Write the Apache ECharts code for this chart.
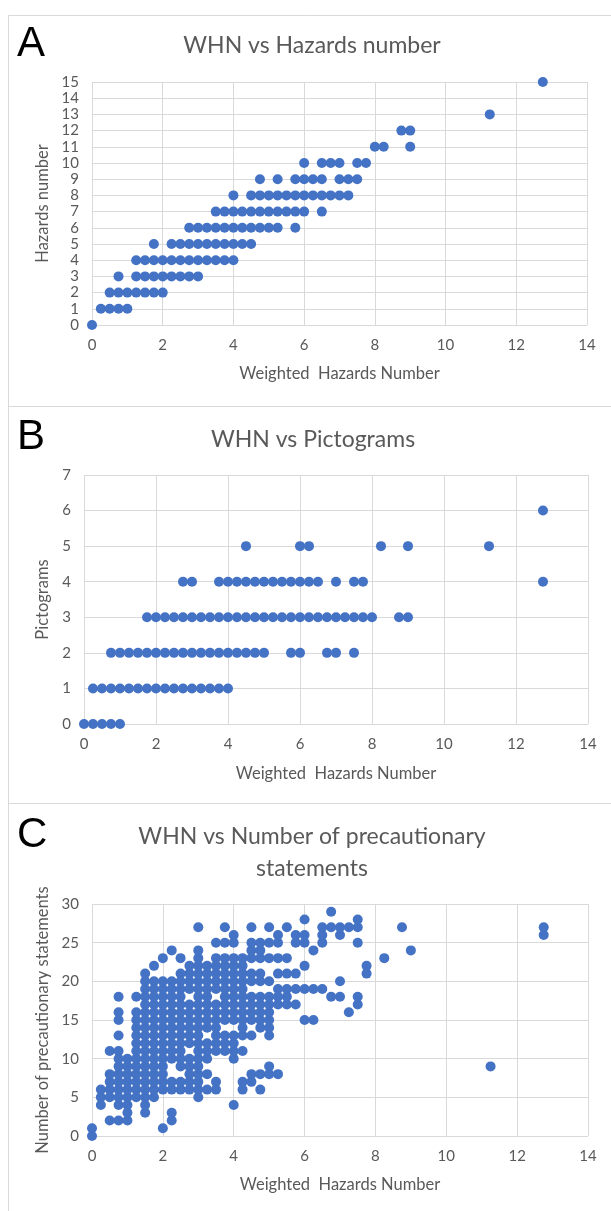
<!DOCTYPE html>
<html>
<head>
<meta charset="utf-8">
<script src="https://cdn.jsdelivr.net/npm/echarts@6/dist/echarts.min.js"></script>
<style>
html,body{margin:0;padding:0;background:#fff;}
#chart{width:611px;height:1211px;}
</style>
</head>
<body>
<div id="chart"></div>
<script>
// ---------- Data ----------
// Panel A: Hazards number (y) rows with WHN values (x)
const hazardsLevels = [0, 1, 2, 3, 4, 5, 6, 7, 8, 9, 10, 11, 12, 13, 15];
const hazardsWHN = [
  [0],
  [0.25, 0.5, 0.75, 1.0],
  [0.5, 0.75, 1.0, 1.25, 1.5, 1.75, 2.0],
  [0.75, 1.25, 1.5, 1.75, 2.0, 2.25, 2.5, 2.75, 3.0],
  [1.25, 1.5, 1.75, 2.0, 2.25, 2.5, 2.75, 3.0, 3.25, 3.5, 3.75, 4.0],
  [1.75, 2.25, 2.5, 2.75, 3.0, 3.25, 3.5, 3.75, 4.0, 4.25, 4.5],
  [2.75, 3.0, 3.25, 3.5, 3.75, 4.0, 4.25, 4.5, 4.75, 5.0, 5.25, 5.75],
  [3.5, 3.75, 4.0, 4.25, 4.5, 4.75, 5.0, 5.25, 5.5, 5.75, 6.0, 6.5],
  [4.0, 4.5, 4.75, 5.0, 5.25, 5.5, 5.75, 6.0, 6.25, 6.5, 6.75, 7.0, 7.25],
  [4.75, 5.25, 5.75, 6.0, 6.25, 6.5, 7.0, 7.25, 7.5],
  [6.0, 6.5, 6.75, 7.0, 7.5, 7.75],
  [8.0, 8.25, 9.0],
  [8.75, 9.0],
  [11.25],
  [12.75]
];

// Panel B: Pictograms (y) rows with WHN values (x)
const pictoLevels = [0, 1, 2, 3, 4, 5, 6];
const pictoWHN = [
  [0, 0.25, 0.5, 0.75, 1.0],
  [0.25, 0.5, 0.75, 1.0, 1.25, 1.5, 1.75, 2.0, 2.25, 2.5, 2.75, 3.0, 3.25, 3.5, 3.75, 4.0],
  [0.75, 1.0, 1.25, 1.5, 1.75, 2.0, 2.25, 2.5, 2.75, 3.0, 3.25, 3.5, 3.75, 4.0, 4.25, 4.5, 4.75, 5.0, 5.75, 6.0, 6.75, 7.0, 7.5],
  [1.75, 2.0, 2.25, 2.5, 2.75, 3.0, 3.25, 3.5, 3.75, 4.0, 4.25, 4.5, 4.75, 5.0, 5.25, 5.5, 5.75, 6.0, 6.25, 6.5, 6.75, 7.0, 7.25, 7.5, 7.75, 8.0, 8.75, 9.0],
  [2.75, 3.0, 3.75, 4.0, 4.25, 4.5, 4.75, 5.0, 5.25, 5.5, 5.75, 6.0, 6.25, 6.5, 7.0, 7.5, 7.75, 12.75],
  [4.5, 6.0, 6.25, 8.25, 9.0, 11.25],
  [12.75]
];

// Panel C: WHN columns (x) with Number of precautionary statements (y)
const precWHN = [0, 0.25, 0.5, 0.75, 1.0, 1.25, 1.5, 1.75, 2.0, 2.25, 2.5, 2.75, 3.0, 3.25, 3.5, 3.75, 4.0, 4.25, 4.5, 4.75, 5.0, 5.25, 5.5, 5.75, 6.0, 6.25, 6.5, 6.75, 7.0, 7.25, 7.5, 7.75, 8.25, 8.75, 9.0, 11.25, 12.75];
const precCounts = [
  [0, 1],
  [4, 5, 6],
  [2, 5, 6, 7, 8, 11],
  [2, 4, 5, 6, 7, 8, 9, 10, 11, 13, 15, 16, 18],
  [2, 3, 4, 5, 6, 7, 8, 9, 10],
  [5, 6, 7, 8, 9, 10, 11, 12, 13, 14, 15, 16, 18],
  [3, 4, 5, 6, 7, 8, 9, 10, 11, 12, 13, 14, 15, 16, 17, 18, 19, 20, 21],
  [5, 6, 7, 8, 9, 10, 11, 12, 13, 14, 15, 16, 17, 18, 19, 20, 22],
  [1, 6, 7, 8, 9, 10, 11, 12, 13, 14, 15, 16, 17, 18, 19, 20, 23],
  [2, 3, 6, 7, 10, 11, 12, 13, 14, 15, 16, 17, 18, 19, 20, 24],
  [6, 7, 9, 10, 11, 12, 13, 14, 15, 16, 17, 18, 19, 20, 21, 23],
  [6, 7, 8, 9, 10, 12, 13, 14, 15, 16, 17, 19, 20, 21, 22],
  [5, 6, 7, 8, 9, 10, 11, 12, 13, 14, 15, 16, 17, 18, 19, 20, 21, 22, 23, 24, 27],
  [6, 8, 10, 11, 12, 14, 15, 16, 17, 18, 19, 20, 21, 22],
  [6, 7, 11, 12, 13, 14, 15, 16, 17, 19, 20, 21, 22, 23, 25],
  [11, 12, 13, 15, 16, 17, 18, 19, 20, 21, 22, 23, 25, 27],
  [4, 10, 11, 12, 13, 15, 16, 17, 18, 19, 20, 21, 22, 23, 25, 26],
  [6, 7, 11, 13, 14, 15, 16, 17, 18, 19, 20, 21, 22, 23],
  [7, 8, 13, 15, 16, 17, 18, 20, 21, 23, 24, 25, 27],
  [6, 8, 14, 15, 16, 17, 18, 20, 21, 23, 24, 25],
  [8, 9, 13, 14, 15, 16, 17, 18, 20, 23, 25, 27],
  [8, 17, 18, 19, 21, 23, 25, 26],
  [17, 18, 19, 21, 23, 27],
  [17, 19, 21, 25, 26],
  [15, 19, 22, 25, 26, 28],
  [15, 19, 24],
  [19, 25, 26, 27],
  [18, 27, 29],
  [18, 20, 26, 27],
  [16, 27],
  [17, 18, 25, 27, 28],
  [21, 22],
  [23],
  [27],
  [24],
  [9],
  [26, 27]
];

const xTicksInterval = 2;
const titles = ['WHN vs Hazards number', 'WHN vs Pictograms', 'WHN vs Number of precautionary\nstatements'];
const panelLetters = ['A', 'B', 'C'];
const xName = 'Weighted  Hazards Number';
const yNames = ['Hazards number', 'Pictograms', 'Number of precautionary statements'];

// ---------- Build ----------
function rowsToPoints(levels, rows) {
  const pts = [];
  levels.forEach((lv, i) => rows[i].forEach(x => pts.push([x, lv])));
  return pts;
}
function colsToPoints(xs, cols) {
  const pts = [];
  xs.forEach((x, i) => cols[i].forEach(y => pts.push([x, y])));
  return pts;
}
const dataA = rowsToPoints(hazardsLevels, hazardsWHN);
const dataB = rowsToPoints(pictoLevels, pictoWHN);
const dataC = colsToPoints(precWHN, precCounts);

const TXT = '#595959';
const GRID = '#d9d9d9';
const FONT = 'Lato, "Open Sans", sans-serif';
const BLUE = '#4472C4';

function xAxisCfg(i, gap) {
  return {
    type: 'value', gridIndex: i, min: 0, max: 14, interval: xTicksInterval,
    name: xName, nameLocation: 'middle', nameGap: gap,
    nameTextStyle: { color: TXT, fontSize: 16.5, fontFamily: FONT },
    axisLine: { show: false }, axisTick: { show: false },
    splitLine: { show: true, lineStyle: { color: GRID, width: 1 } },
    axisLabel: { color: TXT, fontSize: 15, fontFamily: FONT, margin: 13 }
  };
}
function yAxisCfg(i, max, interval, gap) {
  return {
    type: 'value', gridIndex: i, min: 0, max: max, interval: interval,
    name: yNames[i], nameLocation: 'middle', nameGap: gap,
    nameTextStyle: { color: TXT, fontSize: 16.5, fontFamily: FONT },
    axisLine: { show: false }, axisTick: { show: false },
    splitLine: { show: true, lineStyle: { color: GRID, width: 1 } },
    axisLabel: { color: TXT, fontSize: 15, fontFamily: FONT, margin: 13 }
  };
}

const chart = echarts.init(document.getElementById('chart'), null, { renderer: 'canvas' });
const option = {
  backgroundColor: '#fff',
  animation: false,
  grid: [
    { left: 92, top: 82, width: 495, height: 243 },
    { left: 84, top: 475, width: 504, height: 249 },
    { left: 92, top: 904, width: 496, height: 232 }
  ],
  xAxis: [xAxisCfg(0, 40), xAxisCfg(1, 41), xAxisCfg(2, 40)],
  yAxis: [yAxisCfg(0, 15, 1, 36), yAxisCfg(1, 7, 1, 31), yAxisCfg(2, 30, 5, 40)],
  series: [
    { type: 'scatter', xAxisIndex: 0, yAxisIndex: 0, data: dataA, symbolSize: 10, itemStyle: { color: BLUE, opacity: 1 } },
    { type: 'scatter', xAxisIndex: 1, yAxisIndex: 1, data: dataB, symbolSize: 10, itemStyle: { color: BLUE, opacity: 1 } },
    { type: 'scatter', xAxisIndex: 2, yAxisIndex: 2, data: dataC, symbolSize: 10, itemStyle: { color: BLUE, opacity: 1 } }
  ],
  graphic: [
    { type: 'line', shape: { x1: 8.5, y1: 15.5, x2: 8.5, y2: 1211 }, style: { stroke: GRID, lineWidth: 1 }, silent: true },
    { type: 'line', shape: { x1: 8.5, y1: 15.5, x2: 611, y2: 15.5 }, style: { stroke: GRID, lineWidth: 1 }, silent: true },
    { type: 'line', shape: { x1: 8.5, y1: 406.5, x2: 611, y2: 406.5 }, style: { stroke: GRID, lineWidth: 1 }, silent: true },
    { type: 'line', shape: { x1: 8.5, y1: 803.5, x2: 611, y2: 803.5 }, style: { stroke: GRID, lineWidth: 1 }, silent: true },
    { type: 'text', x: 17, y: 44, style: { text: panelLetters[0], fill: '#000', font: '42px "Liberation Sans", Arial, sans-serif', textAlign: 'left', textVerticalAlign: 'middle' } },
    { type: 'text', x: 17, y: 437, style: { text: panelLetters[1], fill: '#000', font: '42px "Liberation Sans", Arial, sans-serif', textAlign: 'left', textVerticalAlign: 'middle' } },
    { type: 'text', x: 17, y: 835, style: { text: panelLetters[2], fill: '#000', font: '42px "Liberation Sans", Arial, sans-serif', textAlign: 'left', textVerticalAlign: 'middle' } },
    { type: 'text', x: 312, y: 46, style: { text: titles[0], fill: TXT, font: '23px ' + FONT, textAlign: 'center', textVerticalAlign: 'middle' } },
    { type: 'text', x: 313, y: 440, style: { text: titles[1], fill: TXT, font: '23px ' + FONT, textAlign: 'center', textVerticalAlign: 'middle' } },
    { type: 'text', x: 312, y: 853, style: { text: titles[2], fill: TXT, font: '23px ' + FONT, lineHeight: 32, textAlign: 'center', textVerticalAlign: 'middle' } }
  ]
};
chart.setOption(option);
</script>
</body>
</html>
